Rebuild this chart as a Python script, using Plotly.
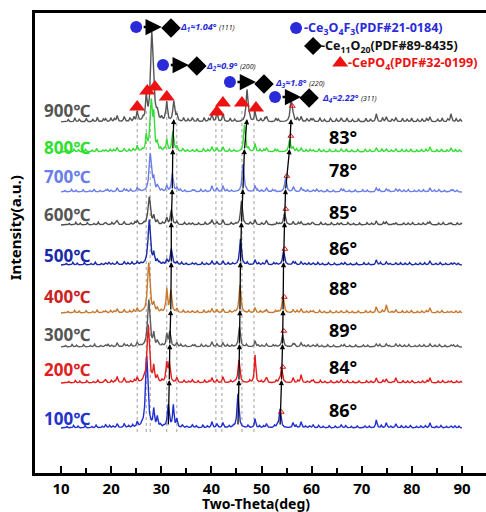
import numpy as np
import plotly.graph_objects as go

# ---------------- data ----------------
temps = ["100℃", "200℃", "300℃", "400℃", "500℃", "600℃", "700℃", "800℃", "900℃"]
baseline = [45, 90, 126, 160, 208, 248, 281, 321, 351]          # vertical offsets (a.u.)
label_y = [55, 104, 139, 177, 218, 259, 297, 326, 363]
trace_colors = ["#1f2fd0", "#e51c1c", "#5c5c5c", "#c8782f", "#1a2aa8", "#4f4f4f", "#6a7ee8", "#33dd33", "#555555"]
label_colors = ["#2233cc", "#e02020", "#555555", "#cc2222", "#1a2aa8", "#555555", "#6a7ee8", "#2ee02e", "#555555"]

# main (shifting) reflections: positions (deg) and heights for each temperature
p111 = [27.1, 27.4, 27.5, 27.5, 27.6, 27.6, 27.8, 28.0, 28.1]
h111 = [72, 58, 47, 50, 45, 28, 38, 50, 85]
p200 = [31.4, 31.6, 31.7, 31.9, 32.0, 32.0, 32.2, 32.3, 32.5]
h200 = [23, 20, 15, 22, 16, 15, 18, 20, 20]
p220 = [45.3, 45.5, 45.6, 45.7, 45.8, 46.0, 46.3, 46.6, 47.1]
h220 = [34, 23, 20, 28, 26, 24, 28, 27, 32]
p311 = [53.7, 54.0, 54.2, 54.3, 54.4, 54.6, 54.8, 55.6, 55.9]
h311 = [19, 15, 12, 17, 14, 12, 14, 12, 22]

# minor (CePO4 etc.) reflections
minor_pos = [18.9, 21.2, 22.6, 25.2, 27.0, 28.5, 29.2, 31.1, 32.4, 33.1, 36.2, 40.1, 41.1,
             42.3, 48.7, 51.0, 56.3, 57.9, 60.3, 65.9, 72.9, 74.9, 76.8, 83.6, 87.8]
minor_h = [
    [3, 4, 4, 5, 0, 17, 10, 0, 22, 8, 3, 6, 4, 5, 9, 4, 5, 6, 3, 3, 8, 5, 4, 5, 2],
    [3, 6, 5, 5, 0, 15, 6, 18, 0, 5, 3, 5, 3, 6, 28, 5, 5, 8, 3, 3, 5, 4, 5, 5, 2],
    [2, 4, 3, 4, 0, 12, 5, 12, 0, 4, 2, 5, 3, 4, 6, 3, 3, 4, 2, 2, 3, 3, 3, 3, 2],
    [2, 4, 3, 4, 0, 8, 4, 23, 0, 4, 2, 4, 3, 4, 5, 3, 3, 4, 2, 2, 6, 8, 3, 5, 2],
    [2, 3, 3, 3, 0, 10, 4, 5, 0, 3, 2, 4, 3, 4, 5, 5, 3, 3, 2, 2, 5, 3, 2, 4, 2],
    [2, 4, 3, 4, 0, 8, 4, 6, 0, 3, 2, 5, 3, 5, 5, 3, 3, 3, 2, 2, 4, 3, 2, 3, 2],
    [2, 4, 3, 4, 0, 12, 5, 6, 0, 4, 2, 6, 4, 6, 6, 4, 4, 4, 2, 3, 4, 3, 3, 4, 2],
    [2, 4, 3, 6, 15, 30, 8, 12, 0, 5, 2, 5, 4, 5, 8, 4, 4, 4, 2, 3, 4, 3, 3, 5, 4],
    [3, 6, 5, 10, 25, 30, 8, 19, 0, 6, 4, 8, 10, 8, 10, 5, 5, 5, 3, 4, 8, 5, 4, 5, 8],
]

# small background roughness (read as typical bump spacing / size)
ripple_pos = [11.2, 12.5, 13.4, 14.8, 16.1, 17.0, 18.2, 19.7, 20.4, 23.5, 24.3, 26.1, 29.8, 30.5,
              34.2, 35.1, 37.0, 38.3, 39.2, 43.5, 44.4, 47.3, 49.6, 50.4, 52.6, 53.1, 56.9, 58.8,
              59.6, 61.4, 62.3, 63.5, 64.7, 66.8, 67.9, 69.1, 70.6, 71.5, 73.9, 75.8, 77.9, 78.8,
              79.7, 80.9, 81.8, 82.7, 84.9, 85.8, 86.9, 88.6, 89.4]
ripple_h = [1.5, 2.5, 1.8, 2.2, 1.5, 2.8, 1.6, 2.4, 1.8, 2.0, 2.6, 1.6, 2.2, 1.8,
            2.4, 1.6, 2.0, 2.6, 1.8, 2.2, 1.6, 2.4, 2.0, 1.8, 2.2, 1.6, 2.4, 1.8,
            2.0, 2.6, 1.6, 2.2, 1.8, 2.4, 1.6, 2.0, 2.2, 1.8, 2.6, 1.6, 2.2, 1.8,
            2.4, 1.6, 2.0, 2.2, 1.8, 2.4, 1.6, 2.0, 1.8]
ripple_shift = [0.0, 0.35, -0.3, 0.2, -0.15, 0.45, -0.4, 0.1, 0.25]
noise_level = [1.0, 1.0, 1.0, 1.0, 1.0, 1.0, 1.0, 1.2, 1.6]

ref_lines = [25.2, 27.0, 27.8, 31.1, 33.1, 40.9, 42.1, 46.1, 48.5]
tri_x = [25.2, 27.2, 28.75, 31.1, 41.1, 42.3, 46.1, 48.9]
tri_y = [366, 382, 386, 376, 361, 370, 370, 365]

angle_vals = ["86°", "84°", "89°", "88°", "86°", "85°", "78°", "83°"]
angle_y = [63, 106, 143, 185, 225, 261, 303, 336]

delta_rows = [
    dict(c=(25.0, 446), d=(31.95, 445), a=(26.2, 30.1), t=(33.3, 446), lab="Δ<sub>1</sub>≈1.04°", hkl="(111)"),
    dict(c=(30.35, 408), d=(37.1, 407), a=(31.6, 35.5), t=(38.5, 407), lab="Δ<sub>2</sub>≈0.9°", hkl="(200)"),
    dict(c=(43.7, 391), d=(50.5, 389), a=(44.9, 48.9), t=(52.3, 390), lab="Δ<sub>3</sub>≈1.8°", hkl="(220)"),
    dict(c=(52.7, 376), d=(59.5, 375), a=(53.9, 57.9), t=(61.6, 375), lab="Δ<sub>4</sub>≈2.22°", hkl="(311)"),
]

# ---------------- build ----------------
def lor(x, p, h, w):
    return h / (1.0 + ((x - p) / w) ** 2)

x = np.arange(10.0, 90.0001, 0.05)
fig = go.Figure()

FONT = "Noto Sans, Open Sans, Noto Sans CJK SC, sans-serif"

# reference dotted lines
for rx in ref_lines:
    fig.add_shape(type="line", x0=rx, x1=rx, y0=41, y1=362, xref="x", yref="y",
                  line=dict(color="#a0a0a0", width=1, dash="dot"), layer="below")

for i in range(9):
    y = np.full_like(x, float(baseline[i]))
    y += lor(x, p111[i], h111[i], 0.28)
    y += lor(x, p200[i], h200[i], 0.22)
    y += lor(x, p220[i], h220[i], 0.22)
    y += lor(x, p311[i], h311[i], 0.22)
    for mp, mh in zip(minor_pos, minor_h[i]):
        if mh:
            y += lor(x, mp, mh, 0.16)
    for rp, rh in zip(ripple_pos, ripple_h):
        y += lor(x, rp + ripple_shift[i], rh * noise_level[i], 0.13)
    fig.add_trace(go.Scatter(x=x, y=y, mode="lines", line=dict(color=trace_colors[i], width=1.4),
                             showlegend=False, hoverinfo="skip"))

# shift arrows for (200),(220),(311)
for pp in (p200, p220, p311):
    for i in range(8):
        fig.add_annotation(x=pp[i + 1], y=baseline[i + 1] + 3, ax=pp[i], ay=baseline[i] + 2,
                           xref="x", yref="y", axref="x", ayref="y", showarrow=True,
                           arrowhead=2, arrowsize=0.8, arrowwidth=1.3, arrowcolor="black", text="")

# small red open triangles on (311)
fig.add_trace(go.Scatter(x=[p + 0.25 for p in p311], y=[b + 16 for b in baseline], mode="markers",
                         marker=dict(symbol="triangle-up-open", size=5, color="#e01010", line=dict(width=1)),
                         showlegend=False, hoverinfo="skip"))

# red triangles above 900
fig.add_trace(go.Scatter(x=tri_x, y=tri_y, mode="markers",
                         marker=dict(symbol="triangle-up", size=14, color="#ee1111"),
                         showlegend=False, hoverinfo="skip"))

# temperature labels
for i in range(9):
    fig.add_annotation(x=6.2, y=label_y[i], text="<b>%s</b>" % temps[i], showarrow=False,
                       xanchor="left", yanchor="middle",
                       font=dict(family=FONT, size=17, color=label_colors[i]))

# angle labels
for v, yy in zip(angle_vals, angle_y):
    fig.add_annotation(x=66.2, y=yy, text="<b>%s</b>" % v, showarrow=False,
                       font=dict(family=FONT, size=18, color="black"))

# delta rows
for r in delta_rows:
    fig.add_trace(go.Scatter(x=[r["c"][0]], y=[r["c"][1]], mode="markers",
                             marker=dict(symbol="circle", size=12, color="#2a2ad8"),
                             showlegend=False, hoverinfo="skip"))
    fig.add_trace(go.Scatter(x=[r["d"][0]], y=[r["d"][1]], mode="markers",
                             marker=dict(symbol="diamond", size=15, color="black"),
                             showlegend=False, hoverinfo="skip"))
    fig.add_annotation(x=r["a"][1], y=r["c"][1], ax=r["a"][0], ay=r["c"][1], xref="x", yref="y",
                       axref="x", ayref="y", showarrow=True, arrowhead=2, arrowsize=1.3,
                       arrowwidth=2.5, arrowcolor="black", text="")
    fig.add_annotation(x=r["t"][0], y=r["t"][1], showarrow=False, xanchor="left",
                       text="<b><i>%s</i></b> <span style='font-size:7px;color:#222'><i>%s</i></span>" % (r["lab"], r["hkl"]),
                       font=dict(family=FONT, size=9, color="#2a2ad8"))

# legend block
leg_marks = [("circle", 56.9, 445, "#2a2ad8", 12), ("diamond", 60.3, 427, "black", 14), ("triangle-up", 65.7, 410, "#ee1111", 14)]
leg_text = ["-Ce<sub>3</sub>O<sub>4</sub>F<sub>3</sub>(PDF#21-0184)",
            "-Ce<sub>11</sub>O<sub>20</sub>(PDF#89-8435)",
            "-CePO<sub>4</sub>(PDF#32-0199)"]
leg_text_x = [58.1, 61.4, 66.8]
leg_colors = ["#2a2ad8", "#111111", "#ee1111"]
for (sym, mx, my, mc, ms), t, tx, tc in zip(leg_marks, leg_text, leg_text_x, leg_colors):
    fig.add_trace(go.Scatter(x=[mx], y=[my], mode="markers", marker=dict(symbol=sym, size=ms, color=mc),
                             showlegend=False, hoverinfo="skip"))
    fig.add_annotation(x=tx, y=my, text="<b>%s</b>" % t, showarrow=False, xanchor="left",
                       yanchor="middle", font=dict(family=FONT, size=12.5, color=tc))

# axis titles
fig.add_annotation(x=-0.072, y=0.533, xref="paper", yref="paper", text="<b>Intensity(a.u.)</b>",
                   textangle=-90, showarrow=False, font=dict(family=FONT, size=15, color="black"))
fig.add_annotation(x=0.49, y=-0.066, xref="paper", yref="paper", text="<b>Two-Theta(deg)</b>",
                   showarrow=False, yanchor="middle", font=dict(family=FONT, size=14, color="black"))

fig.update_layout(
    width=486, height=512, margin=dict(l=35, r=0, t=13, b=39),
    paper_bgcolor="white", plot_bgcolor="white", showlegend=False,
    xaxis=dict(range=[4.81, 94.79], showgrid=False, zeroline=False, showline=True, linecolor="black",
               linewidth=2.5, mirror=True, ticks="inside", ticklen=7, tickwidth=2, tickcolor="black",
               tick0=10, dtick=10, tickfont=dict(family=FONT, size=15, color="black"),
               tickprefix="<b>", ticksuffix="</b>",
               minor=dict(ticks="inside", ticklen=5, tickwidth=1.5, tickcolor="black", dtick=5, tick0=5)),
    yaxis=dict(range=[0, 460], showgrid=False, zeroline=False, showline=True, linecolor="black",
               linewidth=2.5, showticklabels=False, ticks=""),
)

fig.write_html("out.html")
